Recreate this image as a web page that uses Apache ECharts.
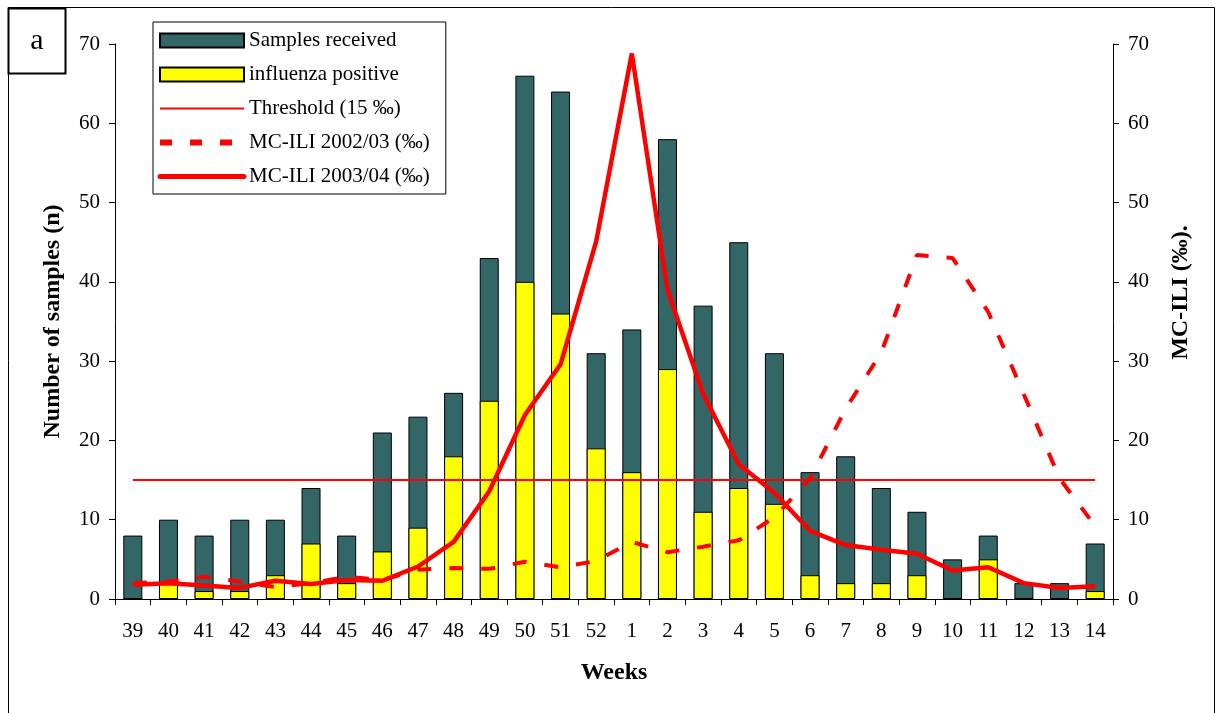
<!DOCTYPE html>
<html><head><meta charset="utf-8">
<script src="https://cdn.jsdelivr.net/npm/echarts@6/dist/echarts.min.js"></script>
<style>html,body{margin:0;padding:0;background:#fff}#c{width:1220px;height:713px}</style>
</head><body><div id="c"></div>
<script>
const weeks = ['39','40','41','42','43','44','45','46','47','48','49','50','51','52','1','2','3','4','5','6','7','8','9','10','11','12','13','14'];
const samplesReceived = [8,10,8,10,10,14,8,21,23,26,43,66,64,31,34,58,37,45,31,16,18,14,11,5,8,2,2,7];
const influenzaPositive = [0,2,1,1,3,7,2,6,9,18,25,40,36,19,16,29,11,14,12,3,2,2,3,0,5,0,0,1];
const threshold = [15,15,15,15,15,15,15,15,15,15,15,15,15,15,15,15,15,15,15,15,15,15,15,15,15,15,15,15];
const mcili0203 = [2,2.2,2.8,2.2,1.5,2,2.8,2.4,3.7,3.9,3.8,4.7,4,4.8,7.2,5.9,6.6,7.4,10.3,15.2,24,31.1,43.4,43,36.2,25.8,15.2,9.2];
const mcili0304 = [1.8,2,1.7,1.4,2.3,1.9,2.4,2.3,4.1,7.2,13.6,23.2,29.6,45.1,68.8,39,25.9,17,13.4,8.6,6.8,6.2,5.7,3.6,4,2,1.4,1.6];

const serif = '"Liberation Serif", "DejaVu Serif", serif';
const chart = echarts.init(document.getElementById('c'), null, {renderer:'canvas'});
const axisCommon = {
  min:0, max:70, interval:10,
  axisLine:{show:true, lineStyle:{color:'#000', width:1}},
  axisTick:{show:true, inside:false, length:6, lineStyle:{color:'#000'}},
  splitLine:{show:false},
  axisLabel:{color:'#000', fontFamily:serif, fontSize:21, margin:15},
  nameLocation:'middle',
  nameTextStyle:{color:'#000', fontFamily:serif, fontSize:24, fontWeight:'bold'}
};
const hiddenSym = {opacity:0};
chart.setOption({
  animation:false,
  backgroundColor:'#fff',
  graphic:[
    {type:'rect', shape:{x:8.5,y:7.5,width:1206,height:720}, style:{fill:'none', stroke:'#000', lineWidth:1}, z:-10},
    {type:'rect', shape:{x:8.5,y:8.5,width:57,height:65}, style:{fill:'#fff', stroke:'#000', lineWidth:2}, z:10},
    {type:'text', x:37, y:41, style:{text:'a', fill:'#000', font:'30px '+serif, textAlign:'center', textVerticalAlign:'middle'}, z:11}
  ],
  grid:{left:115, right:107, top:44, bottom:114, containLabel:false},
  legend:{
    orient:'vertical', left:153, top:22, itemWidth:84, itemHeight:14, itemGap:13,
    padding:[8,16,7,4], borderColor:'#000', borderWidth:1, backgroundColor:'#fff',
    textStyle:{color:'#000', fontFamily:serif, fontSize:21},
    data:[
      {name:'Samples received', icon:'rect'},
      {name:'influenza positive', icon:'rect'},
      {name:'Threshold (15 ‰)', itemStyle:hiddenSym, lineStyle:{width:2, color:'#ff0000'}},
      {name:'MC-ILI 2002/03 (‰)', itemStyle:hiddenSym, lineStyle:{width:6, color:'#ff0000', type:[12,18]}},
      {name:'MC-ILI 2003/04 (‰)', itemStyle:hiddenSym, lineStyle:{width:5, color:'#ff0000', cap:'round'}}
    ]
  },
  xAxis:{
    type:'category', data:weeks,
    axisLine:{lineStyle:{color:'#000'}},
    axisTick:{show:true, length:6, alignWithLabel:false, lineStyle:{color:'#000'}},
    axisLabel:{color:'#000', fontFamily:serif, fontSize:21, margin:22, interval:0},
    name:'Weeks', nameLocation:'middle', nameGap:62,
    nameTextStyle:{color:'#000', fontFamily:serif, fontSize:24, fontWeight:'bold'}
  },
  yAxis:[
    Object.assign({}, axisCommon, {type:'value', position:'left', name:'Number of samples (n)', nameGap:50, nameRotate:90}),
    Object.assign({}, axisCommon, {type:'value', position:'right', name:'MC-ILI (‰).', nameGap:56, nameRotate:90,
      nameTextStyle:{color:'#000', fontFamily:serif, fontSize:24, fontWeight:'bold', padding:[0,0,0,58]}})
  ],
  series:[
    {name:'Samples received', type:'bar', data:samplesReceived, barWidth:19, barGap:'-100%',
      itemStyle:{color:'#336666', borderColor:'#000', borderWidth:1}, z:2},
    {name:'influenza positive', type:'bar', data:influenzaPositive, barWidth:19,
      itemStyle:{color:'#ffff00', borderColor:'#000', borderWidth:1}, z:3},
    {name:'Threshold (15 ‰)', type:'line', yAxisIndex:1, data:threshold, symbol:'none',
      lineStyle:{color:'#ff0000', width:2}, itemStyle:{color:'#ff0000'}, z:5},
    {name:'MC-ILI 2002/03 (‰)', type:'line', yAxisIndex:1, data:mcili0203, symbol:'none',
      lineStyle:{color:'#ff0000', width:4, type:[14,18]}, itemStyle:{color:'#ff0000'}, z:6},
    {name:'MC-ILI 2003/04 (‰)', type:'line', yAxisIndex:1, data:mcili0304, symbol:'none',
      lineStyle:{color:'#ff0000', width:4.5}, itemStyle:{color:'#ff0000'}, z:7}
  ]
});
</script></body></html>
